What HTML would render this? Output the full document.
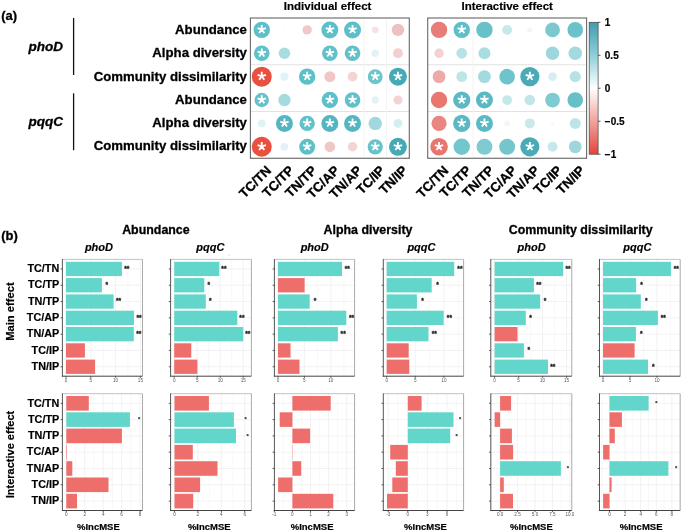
<!DOCTYPE html>
<html><head><meta charset="utf-8"><title>Figure</title>
<style>
html,body{margin:0;padding:0;background:#fff;}
body{width:685px;height:532px;overflow:hidden;}
svg{display:block;font-family:"Liberation Sans", sans-serif;will-change:transform;}
</style></head>
<body>
<svg width="685" height="532" viewBox="0 0 685 532">
<rect width="685" height="532" fill="#fff"/>
<text x="1.20" y="19.80" font-size="13" font-weight="bold" font-style="normal" text-anchor="start" fill="#000" stroke="#000" stroke-width="0.3" >(a)</text>
<text x="28.40" y="50.50" font-size="13.5" font-weight="bold" font-style="italic" text-anchor="start" fill="#000" stroke="#000" stroke-width="0.3" >phoD</text>
<text x="28.40" y="125.80" font-size="13.5" font-weight="bold" font-style="italic" text-anchor="start" fill="#000" stroke="#000" stroke-width="0.3" >pqqC</text>
<line x1="73.60" y1="18.00" x2="73.60" y2="75.00" stroke="#111" stroke-width="1.3"/>
<line x1="73.60" y1="93.30" x2="73.60" y2="150.20" stroke="#111" stroke-width="1.3"/>
<text x="246.90" y="34.00" font-size="13.2" font-weight="bold" font-style="normal" text-anchor="end" fill="#000" stroke="#000" stroke-width="0.3" >Abundance</text>
<text x="246.90" y="57.27" font-size="13.2" font-weight="bold" font-style="normal" text-anchor="end" fill="#000" stroke="#000" stroke-width="0.3" >Alpha diversity</text>
<text x="246.90" y="80.54" font-size="13.2" font-weight="bold" font-style="normal" text-anchor="end" fill="#000" stroke="#000" stroke-width="0.3" >Community dissimilarity</text>
<text x="246.90" y="103.81" font-size="13.2" font-weight="bold" font-style="normal" text-anchor="end" fill="#000" stroke="#000" stroke-width="0.3" >Abundance</text>
<text x="246.90" y="127.08" font-size="13.2" font-weight="bold" font-style="normal" text-anchor="end" fill="#000" stroke="#000" stroke-width="0.3" >Alpha diversity</text>
<text x="246.90" y="150.35" font-size="13.2" font-weight="bold" font-style="normal" text-anchor="end" fill="#000" stroke="#000" stroke-width="0.3" >Community dissimilarity</text>
<line x1="250.40" y1="64.76" x2="409.30" y2="64.76" stroke="#e2e2e2" stroke-width="1"/>
<line x1="250.40" y1="111.52" x2="409.30" y2="111.52" stroke="#e2e2e2" stroke-width="1"/>
<line x1="363.90" y1="18.00" x2="363.90" y2="158.28" stroke="#f3f3f3" stroke-width="1"/>
<line x1="386.60" y1="18.00" x2="386.60" y2="158.28" stroke="#f3f3f3" stroke-width="1"/>
<circle cx="261.75" cy="29.89" r="8.2" fill="#5dc0c8"/>
<path d="M261.75 29.49L261.75 25.09M261.75 29.49L265.93 28.13M261.75 29.49L257.57 28.13M261.75 29.49L259.16 33.05M261.75 29.49L264.34 33.05" stroke="#fff" stroke-width="1.85" fill="none"/>
<circle cx="284.45" cy="29.89" r="0.8" fill="#f4f4f4"/>
<circle cx="307.15" cy="29.89" r="4.7" fill="#f0c8c8"/>
<circle cx="329.85" cy="29.89" r="8.5" fill="#5dc0c8"/>
<path d="M329.85 29.49L329.85 25.09M329.85 29.49L334.03 28.13M329.85 29.49L325.67 28.13M329.85 29.49L327.26 33.05M329.85 29.49L332.44 33.05" stroke="#fff" stroke-width="1.85" fill="none"/>
<circle cx="352.55" cy="29.89" r="8.5" fill="#5dc0c8"/>
<path d="M352.55 29.49L352.55 25.09M352.55 29.49L356.73 28.13M352.55 29.49L348.37 28.13M352.55 29.49L349.96 33.05M352.55 29.49L355.14 33.05" stroke="#fff" stroke-width="1.85" fill="none"/>
<circle cx="375.25" cy="29.89" r="3.3" fill="#f6e2e2"/>
<circle cx="397.95" cy="29.89" r="6.2" fill="#efc0c0"/>
<circle cx="261.75" cy="53.27" r="7.8" fill="#62c0c9"/>
<path d="M261.75 52.87L261.75 48.47M261.75 52.87L265.93 51.51M261.75 52.87L257.57 51.51M261.75 52.87L259.16 56.43M261.75 52.87L264.34 56.43" stroke="#fff" stroke-width="1.85" fill="none"/>
<circle cx="284.45" cy="53.27" r="5.8" fill="#a8dde0"/>
<circle cx="307.15" cy="53.27" r="0.8" fill="#f4f4f4"/>
<circle cx="329.85" cy="53.27" r="7.8" fill="#62c0c9"/>
<path d="M329.85 52.87L329.85 48.47M329.85 52.87L334.03 51.51M329.85 52.87L325.67 51.51M329.85 52.87L327.26 56.43M329.85 52.87L332.44 56.43" stroke="#fff" stroke-width="1.85" fill="none"/>
<circle cx="352.55" cy="53.27" r="7.8" fill="#62c0c9"/>
<path d="M352.55 52.87L352.55 48.47M352.55 52.87L356.73 51.51M352.55 52.87L348.37 51.51M352.55 52.87L349.96 56.43M352.55 52.87L355.14 56.43" stroke="#fff" stroke-width="1.85" fill="none"/>
<circle cx="375.25" cy="53.27" r="3.7" fill="#e2f3f5"/>
<circle cx="397.95" cy="53.27" r="5.0" fill="#f3d0d0"/>
<circle cx="261.75" cy="76.65" r="10" fill="#e8503f"/>
<path d="M261.75 76.25L261.75 71.85M261.75 76.25L265.93 74.89M261.75 76.25L257.57 74.89M261.75 76.25L259.16 79.81M261.75 76.25L264.34 79.81" stroke="#fff" stroke-width="1.85" fill="none"/>
<circle cx="284.45" cy="76.65" r="4.1" fill="#dff2f4"/>
<circle cx="307.15" cy="76.65" r="8.2" fill="#5dc0c8"/>
<path d="M307.15 76.25L307.15 71.85M307.15 76.25L311.33 74.89M307.15 76.25L302.97 74.89M307.15 76.25L304.56 79.81M307.15 76.25L309.74 79.81" stroke="#fff" stroke-width="1.85" fill="none"/>
<circle cx="329.85" cy="76.65" r="5.5" fill="#f0c6c6"/>
<circle cx="352.55" cy="76.65" r="4.9" fill="#f3d3d3"/>
<circle cx="375.25" cy="76.65" r="7.4" fill="#6cc4cc"/>
<path d="M375.25 76.25L375.25 71.85M375.25 76.25L379.43 74.89M375.25 76.25L371.07 74.89M375.25 76.25L372.66 79.81M375.25 76.25L377.84 79.81" stroke="#fff" stroke-width="1.85" fill="none"/>
<circle cx="397.95" cy="76.65" r="9.0" fill="#45a9b6"/>
<path d="M397.95 76.25L397.95 71.85M397.95 76.25L402.13 74.89M397.95 76.25L393.77 74.89M397.95 76.25L395.36 79.81M397.95 76.25L400.54 79.81" stroke="#fff" stroke-width="1.85" fill="none"/>
<circle cx="261.75" cy="100.03" r="7.2" fill="#66c2ca"/>
<path d="M261.75 99.63L261.75 95.23M261.75 99.63L265.93 98.27M261.75 99.63L257.57 98.27M261.75 99.63L259.16 103.19M261.75 99.63L264.34 103.19" stroke="#fff" stroke-width="1.85" fill="none"/>
<circle cx="284.45" cy="100.03" r="6.2" fill="#a5dade"/>
<circle cx="307.15" cy="100.03" r="0.8" fill="#f4f4f4"/>
<circle cx="329.85" cy="100.03" r="8.2" fill="#5dc0c8"/>
<path d="M329.85 99.63L329.85 95.23M329.85 99.63L334.03 98.27M329.85 99.63L325.67 98.27M329.85 99.63L327.26 103.19M329.85 99.63L332.44 103.19" stroke="#fff" stroke-width="1.85" fill="none"/>
<circle cx="352.55" cy="100.03" r="7.8" fill="#62c0c9"/>
<path d="M352.55 99.63L352.55 95.23M352.55 99.63L356.73 98.27M352.55 99.63L348.37 98.27M352.55 99.63L349.96 103.19M352.55 99.63L355.14 103.19" stroke="#fff" stroke-width="1.85" fill="none"/>
<circle cx="375.25" cy="100.03" r="3.7" fill="#e2f3f5"/>
<circle cx="397.95" cy="100.03" r="4.5" fill="#f3d3d3"/>
<circle cx="261.75" cy="123.41" r="3.9" fill="#dff2f4"/>
<circle cx="284.45" cy="123.41" r="8.5" fill="#55b6c1"/>
<path d="M284.45 123.01L284.45 118.61M284.45 123.01L288.63 121.65M284.45 123.01L280.27 121.65M284.45 123.01L281.86 126.57M284.45 123.01L287.04 126.57" stroke="#fff" stroke-width="1.85" fill="none"/>
<circle cx="307.15" cy="123.41" r="7.7" fill="#62c0c9"/>
<path d="M307.15 123.01L307.15 118.61M307.15 123.01L311.33 121.65M307.15 123.01L302.97 121.65M307.15 123.01L304.56 126.57M307.15 123.01L309.74 126.57" stroke="#fff" stroke-width="1.85" fill="none"/>
<circle cx="329.85" cy="123.41" r="8.5" fill="#55b6c1"/>
<path d="M329.85 123.01L329.85 118.61M329.85 123.01L334.03 121.65M329.85 123.01L325.67 121.65M329.85 123.01L327.26 126.57M329.85 123.01L332.44 126.57" stroke="#fff" stroke-width="1.85" fill="none"/>
<circle cx="352.55" cy="123.41" r="8.5" fill="#55b6c1"/>
<path d="M352.55 123.01L352.55 118.61M352.55 123.01L356.73 121.65M352.55 123.01L348.37 121.65M352.55 123.01L349.96 126.57M352.55 123.01L355.14 126.57" stroke="#fff" stroke-width="1.85" fill="none"/>
<circle cx="375.25" cy="123.41" r="6.7" fill="#a0d8dd"/>
<circle cx="397.95" cy="123.41" r="4.5" fill="#d5eff1"/>
<circle cx="261.75" cy="146.79" r="10" fill="#e8503f"/>
<path d="M261.75 146.39L261.75 141.99M261.75 146.39L265.93 145.03M261.75 146.39L257.57 145.03M261.75 146.39L259.16 149.95M261.75 146.39L264.34 149.95" stroke="#fff" stroke-width="1.85" fill="none"/>
<circle cx="284.45" cy="146.79" r="3.9" fill="#e2f3f5"/>
<circle cx="307.15" cy="146.79" r="8.0" fill="#5dc0c8"/>
<path d="M307.15 146.39L307.15 141.99M307.15 146.39L311.33 145.03M307.15 146.39L302.97 145.03M307.15 146.39L304.56 149.95M307.15 146.39L309.74 149.95" stroke="#fff" stroke-width="1.85" fill="none"/>
<circle cx="329.85" cy="146.79" r="5.3" fill="#f0c6c6"/>
<circle cx="352.55" cy="146.79" r="4.7" fill="#f3d3d3"/>
<circle cx="375.25" cy="146.79" r="7.6" fill="#68c2ca"/>
<path d="M375.25 146.39L375.25 141.99M375.25 146.39L379.43 145.03M375.25 146.39L371.07 145.03M375.25 146.39L372.66 149.95M375.25 146.39L377.84 149.95" stroke="#fff" stroke-width="1.85" fill="none"/>
<circle cx="397.95" cy="146.79" r="9.0" fill="#45a9b6"/>
<path d="M397.95 146.39L397.95 141.99M397.95 146.39L402.13 145.03M397.95 146.39L393.77 145.03M397.95 146.39L395.36 149.95M397.95 146.39L400.54 149.95" stroke="#fff" stroke-width="1.85" fill="none"/>
<line x1="249.90" y1="18.00" x2="409.80" y2="18.00" stroke="#8e8e8e" stroke-width="1.5"/>
<line x1="250.40" y1="18.00" x2="250.40" y2="158.28" stroke="#6a6a6a" stroke-width="1.1"/>
<line x1="409.30" y1="18.00" x2="409.30" y2="158.28" stroke="#6a6a6a" stroke-width="1.1"/>
<line x1="249.90" y1="158.28" x2="409.80" y2="158.28" stroke="#555" stroke-width="1.1"/>
<line x1="427.70" y1="64.76" x2="586.60" y2="64.76" stroke="#e2e2e2" stroke-width="1"/>
<line x1="427.70" y1="111.52" x2="586.60" y2="111.52" stroke="#e2e2e2" stroke-width="1"/>
<line x1="473.10" y1="18.00" x2="473.10" y2="158.28" stroke="#f3f3f3" stroke-width="1"/>
<circle cx="439.05" cy="29.89" r="8.2" fill="#e87c78"/>
<circle cx="461.75" cy="29.89" r="8.2" fill="#5dc0c8"/>
<path d="M461.75 29.49L461.75 25.09M461.75 29.49L465.93 28.13M461.75 29.49L457.57 28.13M461.75 29.49L459.16 33.05M461.75 29.49L464.34 33.05" stroke="#fff" stroke-width="1.85" fill="none"/>
<circle cx="484.45" cy="29.89" r="8.2" fill="#68c0c8"/>
<circle cx="507.15" cy="29.89" r="4.9" fill="#c5e8eb"/>
<circle cx="529.85" cy="29.89" r="2.7" fill="#eef8f8"/>
<circle cx="552.55" cy="29.89" r="7.4" fill="#7bc9cf"/>
<circle cx="575.25" cy="29.89" r="7.8" fill="#6cc2ca"/>
<circle cx="439.05" cy="53.27" r="4.7" fill="#f5d0d0"/>
<circle cx="461.75" cy="53.27" r="5.4" fill="#b8e3e6"/>
<circle cx="484.45" cy="53.27" r="6.0" fill="#a9dde0"/>
<circle cx="552.55" cy="53.27" r="6.7" fill="#9dd7dc"/>
<circle cx="575.25" cy="53.27" r="6.8" fill="#a3dade"/>
<circle cx="439.05" cy="76.65" r="6.4" fill="#eea8a5"/>
<circle cx="461.75" cy="76.65" r="5.4" fill="#bde5e8"/>
<circle cx="484.45" cy="76.65" r="6.4" fill="#a3dade"/>
<circle cx="507.15" cy="76.65" r="7.8" fill="#6fc3ca"/>
<circle cx="529.85" cy="76.65" r="9.6" fill="#4aaab6"/>
<path d="M529.85 76.25L529.85 71.85M529.85 76.25L534.03 74.89M529.85 76.25L525.67 74.89M529.85 76.25L527.26 79.81M529.85 76.25L532.44 79.81" stroke="#fff" stroke-width="1.85" fill="none"/>
<circle cx="552.55" cy="76.65" r="4.3" fill="#d5eff1"/>
<circle cx="575.25" cy="76.65" r="5.6" fill="#b5e2e5"/>
<circle cx="439.05" cy="100.03" r="8.2" fill="#e8776f"/>
<circle cx="461.75" cy="100.03" r="8.6" fill="#5ab9c3"/>
<path d="M461.75 99.63L461.75 95.23M461.75 99.63L465.93 98.27M461.75 99.63L457.57 98.27M461.75 99.63L459.16 103.19M461.75 99.63L464.34 103.19" stroke="#fff" stroke-width="1.85" fill="none"/>
<circle cx="484.45" cy="100.03" r="8.5" fill="#5ab9c3"/>
<path d="M484.45 99.63L484.45 95.23M484.45 99.63L488.63 98.27M484.45 99.63L480.27 98.27M484.45 99.63L481.86 103.19M484.45 99.63L487.04 103.19" stroke="#fff" stroke-width="1.85" fill="none"/>
<circle cx="507.15" cy="100.03" r="4.9" fill="#c5e8eb"/>
<circle cx="529.85" cy="100.03" r="5.3" fill="#c0e6e9"/>
<circle cx="552.55" cy="100.03" r="7.4" fill="#7ecbd1"/>
<circle cx="575.25" cy="100.03" r="7.8" fill="#66c0c8"/>
<circle cx="439.05" cy="123.41" r="7.6" fill="#ea857f"/>
<circle cx="461.75" cy="123.41" r="8.6" fill="#5ab9c3"/>
<path d="M461.75 123.01L461.75 118.61M461.75 123.01L465.93 121.65M461.75 123.01L457.57 121.65M461.75 123.01L459.16 126.57M461.75 123.01L464.34 126.57" stroke="#fff" stroke-width="1.85" fill="none"/>
<circle cx="484.45" cy="123.41" r="8.5" fill="#5ab9c3"/>
<path d="M484.45 123.01L484.45 118.61M484.45 123.01L488.63 121.65M484.45 123.01L480.27 121.65M484.45 123.01L481.86 126.57M484.45 123.01L487.04 126.57" stroke="#fff" stroke-width="1.85" fill="none"/>
<circle cx="507.15" cy="123.41" r="2.8" fill="#eef8f9"/>
<circle cx="529.85" cy="123.41" r="5.0" fill="#c9eaec"/>
<circle cx="552.55" cy="123.41" r="1.8" fill="#f3f9f9"/>
<circle cx="575.25" cy="123.41" r="5.5" fill="#bde5e8"/>
<circle cx="439.05" cy="146.79" r="8.8" fill="#e8766e"/>
<path d="M439.05 146.39L439.05 141.99M439.05 146.39L443.23 145.03M439.05 146.39L434.87 145.03M439.05 146.39L436.46 149.95M439.05 146.39L441.64 149.95" stroke="#fff" stroke-width="1.85" fill="none"/>
<circle cx="461.75" cy="146.79" r="8.2" fill="#74c6cd"/>
<circle cx="484.45" cy="146.79" r="8.0" fill="#80cbd1"/>
<circle cx="507.15" cy="146.79" r="8.0" fill="#74c5cc"/>
<circle cx="529.85" cy="146.79" r="9.6" fill="#4aaab6"/>
<path d="M529.85 146.39L529.85 141.99M529.85 146.39L534.03 145.03M529.85 146.39L525.67 145.03M529.85 146.39L527.26 149.95M529.85 146.39L532.44 149.95" stroke="#fff" stroke-width="1.85" fill="none"/>
<circle cx="552.55" cy="146.79" r="5.0" fill="#c6e8eb"/>
<circle cx="575.25" cy="146.79" r="6.4" fill="#9dd7db"/>
<line x1="427.20" y1="18.00" x2="587.10" y2="18.00" stroke="#8e8e8e" stroke-width="1.5"/>
<line x1="427.70" y1="18.00" x2="427.70" y2="158.28" stroke="#6a6a6a" stroke-width="1.1"/>
<line x1="586.60" y1="18.00" x2="586.60" y2="158.28" stroke="#6a6a6a" stroke-width="1.1"/>
<line x1="427.20" y1="158.28" x2="587.10" y2="158.28" stroke="#555" stroke-width="1.1"/>
<text x="327.60" y="9.60" font-size="11.5" font-weight="bold" font-style="normal" text-anchor="middle" fill="#000" stroke="#000" stroke-width="0.18" >Individual effect</text>
<text x="507.20" y="9.60" font-size="11.5" font-weight="bold" font-style="normal" text-anchor="middle" fill="#000" stroke="#000" stroke-width="0.18" >Interactive effect</text>
<text x="272.05" y="171.20" font-size="13.2" font-weight="bold" font-style="normal" text-anchor="end" fill="#000" stroke="#000" stroke-width="0.3" transform="rotate(-45 272.05 171.20)">TC/TN</text>
<text x="294.75" y="171.20" font-size="13.2" font-weight="bold" font-style="normal" text-anchor="end" fill="#000" stroke="#000" stroke-width="0.3" transform="rotate(-45 294.75 171.20)">TC/TP</text>
<text x="317.45" y="171.20" font-size="13.2" font-weight="bold" font-style="normal" text-anchor="end" fill="#000" stroke="#000" stroke-width="0.3" transform="rotate(-45 317.45 171.20)">TN/TP</text>
<text x="340.15" y="171.20" font-size="13.2" font-weight="bold" font-style="normal" text-anchor="end" fill="#000" stroke="#000" stroke-width="0.3" transform="rotate(-45 340.15 171.20)">TC/AP</text>
<text x="362.85" y="171.20" font-size="13.2" font-weight="bold" font-style="normal" text-anchor="end" fill="#000" stroke="#000" stroke-width="0.3" transform="rotate(-45 362.85 171.20)">TN/AP</text>
<text x="385.55" y="171.20" font-size="13.2" font-weight="bold" font-style="normal" text-anchor="end" fill="#000" stroke="#000" stroke-width="0.3" transform="rotate(-45 385.55 171.20)">TC/IP</text>
<text x="408.25" y="171.20" font-size="13.2" font-weight="bold" font-style="normal" text-anchor="end" fill="#000" stroke="#000" stroke-width="0.3" transform="rotate(-45 408.25 171.20)">TN/IP</text>
<text x="449.35" y="171.20" font-size="13.2" font-weight="bold" font-style="normal" text-anchor="end" fill="#000" stroke="#000" stroke-width="0.3" transform="rotate(-45 449.35 171.20)">TC/TN</text>
<text x="472.05" y="171.20" font-size="13.2" font-weight="bold" font-style="normal" text-anchor="end" fill="#000" stroke="#000" stroke-width="0.3" transform="rotate(-45 472.05 171.20)">TC/TP</text>
<text x="494.75" y="171.20" font-size="13.2" font-weight="bold" font-style="normal" text-anchor="end" fill="#000" stroke="#000" stroke-width="0.3" transform="rotate(-45 494.75 171.20)">TN/TP</text>
<text x="517.45" y="171.20" font-size="13.2" font-weight="bold" font-style="normal" text-anchor="end" fill="#000" stroke="#000" stroke-width="0.3" transform="rotate(-45 517.45 171.20)">TC/AP</text>
<text x="540.15" y="171.20" font-size="13.2" font-weight="bold" font-style="normal" text-anchor="end" fill="#000" stroke="#000" stroke-width="0.3" transform="rotate(-45 540.15 171.20)">TN/AP</text>
<text x="562.85" y="171.20" font-size="13.2" font-weight="bold" font-style="normal" text-anchor="end" fill="#000" stroke="#000" stroke-width="0.3" transform="rotate(-45 562.85 171.20)">TC/IP</text>
<text x="585.55" y="171.20" font-size="13.2" font-weight="bold" font-style="normal" text-anchor="end" fill="#000" stroke="#000" stroke-width="0.3" transform="rotate(-45 585.55 171.20)">TN/IP</text>
<defs><linearGradient id="cb" x1="0" y1="0" x2="0" y2="1"><stop offset="0" stop-color="#3f9db0"/><stop offset="0.25" stop-color="#8fcfd8"/><stop offset="0.5" stop-color="#ffffff"/><stop offset="0.75" stop-color="#f0a39d"/><stop offset="1" stop-color="#e4443a"/></linearGradient></defs>
<rect x="589.2" y="22.3" width="8.9" height="131.90" fill="url(#cb)" stroke="#444" stroke-width="0.7"/>
<line x1="598.10" y1="22.30" x2="600.50" y2="22.30" stroke="#333" stroke-width="0.8"/>
<text x="604.80" y="25.90" font-size="10" font-weight="bold" font-style="normal" text-anchor="start" fill="#000" stroke="#000" stroke-width="0.18" >1</text>
<line x1="598.10" y1="55.27" x2="600.50" y2="55.27" stroke="#333" stroke-width="0.8"/>
<text x="604.80" y="58.87" font-size="10" font-weight="bold" font-style="normal" text-anchor="start" fill="#000" stroke="#000" stroke-width="0.18" >0.5</text>
<line x1="598.10" y1="88.25" x2="600.50" y2="88.25" stroke="#333" stroke-width="0.8"/>
<text x="604.80" y="91.85" font-size="10" font-weight="bold" font-style="normal" text-anchor="start" fill="#000" stroke="#000" stroke-width="0.18" >0</text>
<line x1="598.10" y1="121.22" x2="600.50" y2="121.22" stroke="#333" stroke-width="0.8"/>
<text x="604.80" y="124.82" font-size="10" font-weight="bold" font-style="normal" text-anchor="start" fill="#000" stroke="#000" stroke-width="0.18" >−0.5</text>
<line x1="598.10" y1="154.20" x2="600.50" y2="154.20" stroke="#333" stroke-width="0.8"/>
<text x="604.80" y="157.80" font-size="10" font-weight="bold" font-style="normal" text-anchor="start" fill="#000" stroke="#000" stroke-width="0.18" >−1</text>
<circle cx="229.2" cy="255.1" r="0.7" fill="#c8c8c8"/>
<text x="1.20" y="239.50" font-size="13" font-weight="bold" font-style="normal" text-anchor="start" fill="#000" stroke="#000" stroke-width="0.3" >(b)</text>
<text x="155.90" y="234.20" font-size="12.4" font-weight="bold" font-style="normal" text-anchor="middle" fill="#000" stroke="#000" stroke-width="0.3" >Abundance</text>
<text x="368.00" y="234.20" font-size="12.4" font-weight="bold" font-style="normal" text-anchor="middle" fill="#000" stroke="#000" stroke-width="0.3" >Alpha diversity</text>
<text x="580.70" y="234.20" font-size="12.4" font-weight="bold" font-style="normal" text-anchor="middle" fill="#000" stroke="#000" stroke-width="0.3" >Community dissimilarity</text>
<text x="98.95" y="251.20" font-size="11" font-weight="bold" font-style="italic" text-anchor="middle" fill="#000" stroke="#000" stroke-width="0.18" >phoD</text>
<text x="210.30" y="251.20" font-size="11" font-weight="bold" font-style="italic" text-anchor="middle" fill="#000" stroke="#000" stroke-width="0.18" >pqqC</text>
<text x="314.70" y="251.20" font-size="11" font-weight="bold" font-style="italic" text-anchor="middle" fill="#000" stroke="#000" stroke-width="0.18" >phoD</text>
<text x="421.45" y="251.20" font-size="11" font-weight="bold" font-style="italic" text-anchor="middle" fill="#000" stroke="#000" stroke-width="0.18" >pqqC</text>
<text x="531.60" y="251.20" font-size="11" font-weight="bold" font-style="italic" text-anchor="middle" fill="#000" stroke="#000" stroke-width="0.18" >phoD</text>
<text x="637.35" y="251.20" font-size="11" font-weight="bold" font-style="italic" text-anchor="middle" fill="#000" stroke="#000" stroke-width="0.18" >pqqC</text>
<text x="0.00" y="0.00" font-size="11.2" font-weight="bold" font-style="normal" text-anchor="middle" fill="#000" stroke="#000" stroke-width="0.18" transform="translate(14.2 311.6) rotate(-90)">Main effect</text>
<text x="0.00" y="0.00" font-size="11" font-weight="bold" font-style="normal" text-anchor="middle" fill="#000" stroke="#000" stroke-width="0.18" transform="translate(14.4 454.5) rotate(-90)">Interactive effect</text>
<line x1="78.40" y1="259.40" x2="78.40" y2="376.20" stroke="#f4f4f4" stroke-width="0.6"/>
<line x1="103.20" y1="259.40" x2="103.20" y2="376.20" stroke="#f4f4f4" stroke-width="0.6"/>
<line x1="128.00" y1="259.40" x2="128.00" y2="376.20" stroke="#f4f4f4" stroke-width="0.6"/>
<line x1="66.00" y1="259.40" x2="66.00" y2="376.20" stroke="#e9e9e9" stroke-width="0.6"/>
<line x1="90.80" y1="259.40" x2="90.80" y2="376.20" stroke="#e9e9e9" stroke-width="0.6"/>
<line x1="115.60" y1="259.40" x2="115.60" y2="376.20" stroke="#e9e9e9" stroke-width="0.6"/>
<line x1="140.40" y1="259.40" x2="140.40" y2="376.20" stroke="#e9e9e9" stroke-width="0.6"/>
<line x1="62.40" y1="268.95" x2="142.50" y2="268.95" stroke="#e9e9e9" stroke-width="0.6"/>
<line x1="62.40" y1="285.25" x2="142.50" y2="285.25" stroke="#e9e9e9" stroke-width="0.6"/>
<line x1="62.40" y1="301.55" x2="142.50" y2="301.55" stroke="#e9e9e9" stroke-width="0.6"/>
<line x1="62.40" y1="317.85" x2="142.50" y2="317.85" stroke="#e9e9e9" stroke-width="0.6"/>
<line x1="62.40" y1="334.15" x2="142.50" y2="334.15" stroke="#e9e9e9" stroke-width="0.6"/>
<line x1="62.40" y1="350.45" x2="142.50" y2="350.45" stroke="#e9e9e9" stroke-width="0.6"/>
<line x1="62.40" y1="366.75" x2="142.50" y2="366.75" stroke="#e9e9e9" stroke-width="0.6"/>
<rect x="66.00" y="261.80" width="55.90" height="14.30" fill="#62d6ca" />
<text x="126.86" y="270.85" font-size="6.6" font-weight="bold" font-style="normal" text-anchor="middle" fill="#222" stroke="#222" stroke-width="0.3" >**</text>
<rect x="66.00" y="278.10" width="35.90" height="14.30" fill="#62d6ca" />
<text x="106.86" y="287.15" font-size="6.6" font-weight="bold" font-style="normal" text-anchor="middle" fill="#222" stroke="#222" stroke-width="0.3" >*</text>
<rect x="66.00" y="294.40" width="47.60" height="14.30" fill="#62d6ca" />
<text x="118.56" y="303.45" font-size="6.6" font-weight="bold" font-style="normal" text-anchor="middle" fill="#222" stroke="#222" stroke-width="0.3" >**</text>
<rect x="66.00" y="310.70" width="68.00" height="14.30" fill="#62d6ca" />
<text x="138.96" y="319.75" font-size="6.6" font-weight="bold" font-style="normal" text-anchor="middle" fill="#222" stroke="#222" stroke-width="0.3" >**</text>
<rect x="66.00" y="327.00" width="67.80" height="14.30" fill="#62d6ca" />
<text x="138.76" y="336.05" font-size="6.6" font-weight="bold" font-style="normal" text-anchor="middle" fill="#222" stroke="#222" stroke-width="0.3" >**</text>
<rect x="66.00" y="343.30" width="18.90" height="14.30" fill="#ee6e6b" />
<rect x="66.00" y="359.60" width="29.10" height="14.30" fill="#ee6e6b" />
<line x1="62.40" y1="259.40" x2="142.50" y2="259.40" stroke="#bbbbbb" stroke-width="0.9"/>
<line x1="142.50" y1="259.40" x2="142.50" y2="376.20" stroke="#aaaaaa" stroke-width="1.0"/>
<line x1="62.40" y1="259.00" x2="62.40" y2="376.70" stroke="#555" stroke-width="1.0"/>
<line x1="61.90" y1="376.20" x2="142.50" y2="376.20" stroke="#444" stroke-width="1.0"/>
<line x1="60.60" y1="268.95" x2="62.40" y2="268.95" stroke="#333" stroke-width="0.8"/>
<text x="59.20" y="272.15" font-size="10.8" font-weight="bold" font-style="normal" text-anchor="end" fill="#000" stroke="#000" stroke-width="0.18" >TC/TN</text>
<line x1="60.60" y1="285.25" x2="62.40" y2="285.25" stroke="#333" stroke-width="0.8"/>
<text x="59.20" y="288.45" font-size="10.8" font-weight="bold" font-style="normal" text-anchor="end" fill="#000" stroke="#000" stroke-width="0.18" >TC/TP</text>
<line x1="60.60" y1="301.55" x2="62.40" y2="301.55" stroke="#333" stroke-width="0.8"/>
<text x="59.20" y="304.75" font-size="10.8" font-weight="bold" font-style="normal" text-anchor="end" fill="#000" stroke="#000" stroke-width="0.18" >TN/TP</text>
<line x1="60.60" y1="317.85" x2="62.40" y2="317.85" stroke="#333" stroke-width="0.8"/>
<text x="59.20" y="321.05" font-size="10.8" font-weight="bold" font-style="normal" text-anchor="end" fill="#000" stroke="#000" stroke-width="0.18" >TC/AP</text>
<line x1="60.60" y1="334.15" x2="62.40" y2="334.15" stroke="#333" stroke-width="0.8"/>
<text x="59.20" y="337.35" font-size="10.8" font-weight="bold" font-style="normal" text-anchor="end" fill="#000" stroke="#000" stroke-width="0.18" >TN/AP</text>
<line x1="60.60" y1="350.45" x2="62.40" y2="350.45" stroke="#333" stroke-width="0.8"/>
<text x="59.20" y="353.65" font-size="10.8" font-weight="bold" font-style="normal" text-anchor="end" fill="#000" stroke="#000" stroke-width="0.18" >TC/IP</text>
<line x1="60.60" y1="366.75" x2="62.40" y2="366.75" stroke="#333" stroke-width="0.8"/>
<text x="59.20" y="369.95" font-size="10.8" font-weight="bold" font-style="normal" text-anchor="end" fill="#000" stroke="#000" stroke-width="0.18" >TN/IP</text>
<line x1="66.00" y1="376.20" x2="66.00" y2="377.80" stroke="#333" stroke-width="0.8"/>
<text x="66.00" y="381.80" font-size="4.6" font-weight="normal" font-style="normal" text-anchor="middle" fill="#555" >0</text>
<line x1="90.80" y1="376.20" x2="90.80" y2="377.80" stroke="#333" stroke-width="0.8"/>
<text x="90.80" y="381.80" font-size="4.6" font-weight="normal" font-style="normal" text-anchor="middle" fill="#555" >5</text>
<line x1="115.60" y1="376.20" x2="115.60" y2="377.80" stroke="#333" stroke-width="0.8"/>
<text x="115.60" y="381.80" font-size="4.6" font-weight="normal" font-style="normal" text-anchor="middle" fill="#555" >10</text>
<line x1="140.40" y1="376.20" x2="140.40" y2="377.80" stroke="#333" stroke-width="0.8"/>
<text x="140.40" y="381.80" font-size="4.6" font-weight="normal" font-style="normal" text-anchor="middle" fill="#555" >15</text>
<line x1="75.52" y1="393.70" x2="75.52" y2="510.50" stroke="#f4f4f4" stroke-width="0.6"/>
<line x1="93.97" y1="393.70" x2="93.97" y2="510.50" stroke="#f4f4f4" stroke-width="0.6"/>
<line x1="112.42" y1="393.70" x2="112.42" y2="510.50" stroke="#f4f4f4" stroke-width="0.6"/>
<line x1="130.88" y1="393.70" x2="130.88" y2="510.50" stroke="#f4f4f4" stroke-width="0.6"/>
<line x1="66.30" y1="393.70" x2="66.30" y2="510.50" stroke="#e9e9e9" stroke-width="0.6"/>
<line x1="84.75" y1="393.70" x2="84.75" y2="510.50" stroke="#e9e9e9" stroke-width="0.6"/>
<line x1="103.20" y1="393.70" x2="103.20" y2="510.50" stroke="#e9e9e9" stroke-width="0.6"/>
<line x1="121.65" y1="393.70" x2="121.65" y2="510.50" stroke="#e9e9e9" stroke-width="0.6"/>
<line x1="140.10" y1="393.70" x2="140.10" y2="510.50" stroke="#e9e9e9" stroke-width="0.6"/>
<line x1="62.40" y1="403.30" x2="142.50" y2="403.30" stroke="#e9e9e9" stroke-width="0.6"/>
<line x1="62.40" y1="419.60" x2="142.50" y2="419.60" stroke="#e9e9e9" stroke-width="0.6"/>
<line x1="62.40" y1="435.90" x2="142.50" y2="435.90" stroke="#e9e9e9" stroke-width="0.6"/>
<line x1="62.40" y1="452.20" x2="142.50" y2="452.20" stroke="#e9e9e9" stroke-width="0.6"/>
<line x1="62.40" y1="468.50" x2="142.50" y2="468.50" stroke="#e9e9e9" stroke-width="0.6"/>
<line x1="62.40" y1="484.80" x2="142.50" y2="484.80" stroke="#e9e9e9" stroke-width="0.6"/>
<line x1="62.40" y1="501.10" x2="142.50" y2="501.10" stroke="#e9e9e9" stroke-width="0.6"/>
<rect x="66.30" y="396.00" width="22.50" height="14.60" fill="#ee6e6b" />
<rect x="66.30" y="412.30" width="63.60" height="14.60" fill="#62d6ca" />
<text x="139.12" y="421.27" font-size="5.8" font-weight="bold" font-style="normal" text-anchor="middle" fill="#222" stroke="#222" stroke-width="0.1" >*</text>
<rect x="66.30" y="428.60" width="55.60" height="14.60" fill="#ee6e6b" />
<rect x="66.30" y="444.90" width="0.60" height="14.60" fill="#ee6e6b" />
<rect x="66.30" y="461.20" width="6.00" height="14.60" fill="#ee6e6b" />
<rect x="66.30" y="477.50" width="42.20" height="14.60" fill="#ee6e6b" />
<rect x="66.30" y="493.80" width="10.70" height="14.60" fill="#ee6e6b" />
<line x1="62.40" y1="393.70" x2="142.50" y2="393.70" stroke="#bbbbbb" stroke-width="0.9"/>
<line x1="142.50" y1="393.70" x2="142.50" y2="510.50" stroke="#aaaaaa" stroke-width="1.0"/>
<line x1="62.40" y1="393.30" x2="62.40" y2="511.00" stroke="#555" stroke-width="1.0"/>
<line x1="61.90" y1="510.50" x2="142.50" y2="510.50" stroke="#444" stroke-width="1.0"/>
<line x1="60.60" y1="403.30" x2="62.40" y2="403.30" stroke="#333" stroke-width="0.8"/>
<text x="59.20" y="406.50" font-size="10.8" font-weight="bold" font-style="normal" text-anchor="end" fill="#000" stroke="#000" stroke-width="0.18" >TC/TN</text>
<line x1="60.60" y1="419.60" x2="62.40" y2="419.60" stroke="#333" stroke-width="0.8"/>
<text x="59.20" y="422.80" font-size="10.8" font-weight="bold" font-style="normal" text-anchor="end" fill="#000" stroke="#000" stroke-width="0.18" >TC/TP</text>
<line x1="60.60" y1="435.90" x2="62.40" y2="435.90" stroke="#333" stroke-width="0.8"/>
<text x="59.20" y="439.10" font-size="10.8" font-weight="bold" font-style="normal" text-anchor="end" fill="#000" stroke="#000" stroke-width="0.18" >TN/TP</text>
<line x1="60.60" y1="452.20" x2="62.40" y2="452.20" stroke="#333" stroke-width="0.8"/>
<text x="59.20" y="455.40" font-size="10.8" font-weight="bold" font-style="normal" text-anchor="end" fill="#000" stroke="#000" stroke-width="0.18" >TC/AP</text>
<line x1="60.60" y1="468.50" x2="62.40" y2="468.50" stroke="#333" stroke-width="0.8"/>
<text x="59.20" y="471.70" font-size="10.8" font-weight="bold" font-style="normal" text-anchor="end" fill="#000" stroke="#000" stroke-width="0.18" >TN/AP</text>
<line x1="60.60" y1="484.80" x2="62.40" y2="484.80" stroke="#333" stroke-width="0.8"/>
<text x="59.20" y="488.00" font-size="10.8" font-weight="bold" font-style="normal" text-anchor="end" fill="#000" stroke="#000" stroke-width="0.18" >TC/IP</text>
<line x1="60.60" y1="501.10" x2="62.40" y2="501.10" stroke="#333" stroke-width="0.8"/>
<text x="59.20" y="504.30" font-size="10.8" font-weight="bold" font-style="normal" text-anchor="end" fill="#000" stroke="#000" stroke-width="0.18" >TN/IP</text>
<line x1="66.30" y1="510.50" x2="66.30" y2="512.10" stroke="#333" stroke-width="0.8"/>
<text x="66.30" y="516.10" font-size="4.6" font-weight="normal" font-style="normal" text-anchor="middle" fill="#555" >0</text>
<line x1="84.75" y1="510.50" x2="84.75" y2="512.10" stroke="#333" stroke-width="0.8"/>
<text x="84.75" y="516.10" font-size="4.6" font-weight="normal" font-style="normal" text-anchor="middle" fill="#555" >2</text>
<line x1="103.20" y1="510.50" x2="103.20" y2="512.10" stroke="#333" stroke-width="0.8"/>
<text x="103.20" y="516.10" font-size="4.6" font-weight="normal" font-style="normal" text-anchor="middle" fill="#555" >4</text>
<line x1="121.65" y1="510.50" x2="121.65" y2="512.10" stroke="#333" stroke-width="0.8"/>
<text x="121.65" y="516.10" font-size="4.6" font-weight="normal" font-style="normal" text-anchor="middle" fill="#555" >6</text>
<line x1="140.10" y1="510.50" x2="140.10" y2="512.10" stroke="#333" stroke-width="0.8"/>
<text x="140.10" y="516.10" font-size="4.6" font-weight="normal" font-style="normal" text-anchor="middle" fill="#555" >8</text>
<text x="98.40" y="530.00" font-size="9.5" font-weight="bold" font-style="normal" text-anchor="middle" fill="#000" stroke="#000" stroke-width="0.18" >%IncMSE</text>
<line x1="185.70" y1="259.40" x2="185.70" y2="376.20" stroke="#f4f4f4" stroke-width="0.6"/>
<line x1="208.70" y1="259.40" x2="208.70" y2="376.20" stroke="#f4f4f4" stroke-width="0.6"/>
<line x1="231.70" y1="259.40" x2="231.70" y2="376.20" stroke="#f4f4f4" stroke-width="0.6"/>
<line x1="174.20" y1="259.40" x2="174.20" y2="376.20" stroke="#e9e9e9" stroke-width="0.6"/>
<line x1="197.20" y1="259.40" x2="197.20" y2="376.20" stroke="#e9e9e9" stroke-width="0.6"/>
<line x1="220.20" y1="259.40" x2="220.20" y2="376.20" stroke="#e9e9e9" stroke-width="0.6"/>
<line x1="243.20" y1="259.40" x2="243.20" y2="376.20" stroke="#e9e9e9" stroke-width="0.6"/>
<line x1="170.60" y1="268.95" x2="251.40" y2="268.95" stroke="#e9e9e9" stroke-width="0.6"/>
<line x1="170.60" y1="285.25" x2="251.40" y2="285.25" stroke="#e9e9e9" stroke-width="0.6"/>
<line x1="170.60" y1="301.55" x2="251.40" y2="301.55" stroke="#e9e9e9" stroke-width="0.6"/>
<line x1="170.60" y1="317.85" x2="251.40" y2="317.85" stroke="#e9e9e9" stroke-width="0.6"/>
<line x1="170.60" y1="334.15" x2="251.40" y2="334.15" stroke="#e9e9e9" stroke-width="0.6"/>
<line x1="170.60" y1="350.45" x2="251.40" y2="350.45" stroke="#e9e9e9" stroke-width="0.6"/>
<line x1="170.60" y1="366.75" x2="251.40" y2="366.75" stroke="#e9e9e9" stroke-width="0.6"/>
<rect x="174.20" y="261.80" width="45.10" height="14.30" fill="#62d6ca" />
<text x="223.90" y="270.85" font-size="6.6" font-weight="bold" font-style="normal" text-anchor="middle" fill="#222" stroke="#222" stroke-width="0.3" >**</text>
<rect x="174.20" y="278.10" width="30.10" height="14.30" fill="#62d6ca" />
<text x="208.90" y="287.15" font-size="6.6" font-weight="bold" font-style="normal" text-anchor="middle" fill="#222" stroke="#222" stroke-width="0.3" >*</text>
<rect x="174.20" y="294.40" width="31.60" height="14.30" fill="#62d6ca" />
<text x="210.40" y="303.45" font-size="6.6" font-weight="bold" font-style="normal" text-anchor="middle" fill="#222" stroke="#222" stroke-width="0.3" >*</text>
<rect x="174.20" y="310.70" width="63.10" height="14.30" fill="#62d6ca" />
<text x="241.90" y="319.75" font-size="6.6" font-weight="bold" font-style="normal" text-anchor="middle" fill="#222" stroke="#222" stroke-width="0.3" >**</text>
<rect x="174.20" y="327.00" width="69.00" height="14.30" fill="#62d6ca" />
<text x="247.80" y="336.05" font-size="6.6" font-weight="bold" font-style="normal" text-anchor="middle" fill="#222" stroke="#222" stroke-width="0.3" >**</text>
<rect x="174.20" y="343.30" width="17.10" height="14.30" fill="#ee6e6b" />
<rect x="174.20" y="359.60" width="23.20" height="14.30" fill="#ee6e6b" />
<line x1="170.60" y1="259.40" x2="251.40" y2="259.40" stroke="#bbbbbb" stroke-width="0.9"/>
<line x1="251.40" y1="259.40" x2="251.40" y2="376.20" stroke="#aaaaaa" stroke-width="1.0"/>
<line x1="170.60" y1="259.00" x2="170.60" y2="376.70" stroke="#555" stroke-width="1.0"/>
<line x1="170.10" y1="376.20" x2="251.40" y2="376.20" stroke="#444" stroke-width="1.0"/>
<line x1="168.80" y1="268.95" x2="170.60" y2="268.95" stroke="#333" stroke-width="0.8"/>
<line x1="168.80" y1="285.25" x2="170.60" y2="285.25" stroke="#333" stroke-width="0.8"/>
<line x1="168.80" y1="301.55" x2="170.60" y2="301.55" stroke="#333" stroke-width="0.8"/>
<line x1="168.80" y1="317.85" x2="170.60" y2="317.85" stroke="#333" stroke-width="0.8"/>
<line x1="168.80" y1="334.15" x2="170.60" y2="334.15" stroke="#333" stroke-width="0.8"/>
<line x1="168.80" y1="350.45" x2="170.60" y2="350.45" stroke="#333" stroke-width="0.8"/>
<line x1="168.80" y1="366.75" x2="170.60" y2="366.75" stroke="#333" stroke-width="0.8"/>
<line x1="174.20" y1="376.20" x2="174.20" y2="377.80" stroke="#333" stroke-width="0.8"/>
<text x="174.20" y="381.80" font-size="4.6" font-weight="normal" font-style="normal" text-anchor="middle" fill="#555" >0</text>
<line x1="197.20" y1="376.20" x2="197.20" y2="377.80" stroke="#333" stroke-width="0.8"/>
<text x="197.20" y="381.80" font-size="4.6" font-weight="normal" font-style="normal" text-anchor="middle" fill="#555" >5</text>
<line x1="220.20" y1="376.20" x2="220.20" y2="377.80" stroke="#333" stroke-width="0.8"/>
<text x="220.20" y="381.80" font-size="4.6" font-weight="normal" font-style="normal" text-anchor="middle" fill="#555" >10</text>
<line x1="243.20" y1="376.20" x2="243.20" y2="377.80" stroke="#333" stroke-width="0.8"/>
<text x="243.20" y="381.80" font-size="4.6" font-weight="normal" font-style="normal" text-anchor="middle" fill="#555" >15</text>
<line x1="186.20" y1="393.70" x2="186.20" y2="510.50" stroke="#f4f4f4" stroke-width="0.6"/>
<line x1="209.60" y1="393.70" x2="209.60" y2="510.50" stroke="#f4f4f4" stroke-width="0.6"/>
<line x1="233.00" y1="393.70" x2="233.00" y2="510.50" stroke="#f4f4f4" stroke-width="0.6"/>
<line x1="174.50" y1="393.70" x2="174.50" y2="510.50" stroke="#e9e9e9" stroke-width="0.6"/>
<line x1="197.90" y1="393.70" x2="197.90" y2="510.50" stroke="#e9e9e9" stroke-width="0.6"/>
<line x1="221.30" y1="393.70" x2="221.30" y2="510.50" stroke="#e9e9e9" stroke-width="0.6"/>
<line x1="244.70" y1="393.70" x2="244.70" y2="510.50" stroke="#e9e9e9" stroke-width="0.6"/>
<line x1="170.60" y1="403.30" x2="251.40" y2="403.30" stroke="#e9e9e9" stroke-width="0.6"/>
<line x1="170.60" y1="419.60" x2="251.40" y2="419.60" stroke="#e9e9e9" stroke-width="0.6"/>
<line x1="170.60" y1="435.90" x2="251.40" y2="435.90" stroke="#e9e9e9" stroke-width="0.6"/>
<line x1="170.60" y1="452.20" x2="251.40" y2="452.20" stroke="#e9e9e9" stroke-width="0.6"/>
<line x1="170.60" y1="468.50" x2="251.40" y2="468.50" stroke="#e9e9e9" stroke-width="0.6"/>
<line x1="170.60" y1="484.80" x2="251.40" y2="484.80" stroke="#e9e9e9" stroke-width="0.6"/>
<line x1="170.60" y1="501.10" x2="251.40" y2="501.10" stroke="#e9e9e9" stroke-width="0.6"/>
<rect x="174.50" y="396.00" width="34.40" height="14.60" fill="#ee6e6b" />
<rect x="174.50" y="412.30" width="59.40" height="14.60" fill="#62d6ca" />
<text x="245.60" y="421.27" font-size="5.8" font-weight="bold" font-style="normal" text-anchor="middle" fill="#222" stroke="#222" stroke-width="0.1" >*</text>
<rect x="174.50" y="428.60" width="61.50" height="14.60" fill="#62d6ca" />
<text x="247.70" y="437.57" font-size="5.8" font-weight="bold" font-style="normal" text-anchor="middle" fill="#222" stroke="#222" stroke-width="0.1" >*</text>
<rect x="174.50" y="444.90" width="18.30" height="14.60" fill="#ee6e6b" />
<rect x="174.50" y="461.20" width="43.00" height="14.60" fill="#ee6e6b" />
<rect x="174.50" y="477.50" width="25.60" height="14.60" fill="#ee6e6b" />
<rect x="174.50" y="493.80" width="18.70" height="14.60" fill="#ee6e6b" />
<line x1="170.60" y1="393.70" x2="251.40" y2="393.70" stroke="#bbbbbb" stroke-width="0.9"/>
<line x1="251.40" y1="393.70" x2="251.40" y2="510.50" stroke="#aaaaaa" stroke-width="1.0"/>
<line x1="170.60" y1="393.30" x2="170.60" y2="511.00" stroke="#555" stroke-width="1.0"/>
<line x1="170.10" y1="510.50" x2="251.40" y2="510.50" stroke="#444" stroke-width="1.0"/>
<line x1="168.80" y1="403.30" x2="170.60" y2="403.30" stroke="#333" stroke-width="0.8"/>
<line x1="168.80" y1="419.60" x2="170.60" y2="419.60" stroke="#333" stroke-width="0.8"/>
<line x1="168.80" y1="435.90" x2="170.60" y2="435.90" stroke="#333" stroke-width="0.8"/>
<line x1="168.80" y1="452.20" x2="170.60" y2="452.20" stroke="#333" stroke-width="0.8"/>
<line x1="168.80" y1="468.50" x2="170.60" y2="468.50" stroke="#333" stroke-width="0.8"/>
<line x1="168.80" y1="484.80" x2="170.60" y2="484.80" stroke="#333" stroke-width="0.8"/>
<line x1="168.80" y1="501.10" x2="170.60" y2="501.10" stroke="#333" stroke-width="0.8"/>
<line x1="174.50" y1="510.50" x2="174.50" y2="512.10" stroke="#333" stroke-width="0.8"/>
<text x="174.50" y="516.10" font-size="4.6" font-weight="normal" font-style="normal" text-anchor="middle" fill="#555" >0</text>
<line x1="197.90" y1="510.50" x2="197.90" y2="512.10" stroke="#333" stroke-width="0.8"/>
<text x="197.90" y="516.10" font-size="4.6" font-weight="normal" font-style="normal" text-anchor="middle" fill="#555" >2</text>
<line x1="221.30" y1="510.50" x2="221.30" y2="512.10" stroke="#333" stroke-width="0.8"/>
<text x="221.30" y="516.10" font-size="4.6" font-weight="normal" font-style="normal" text-anchor="middle" fill="#555" >4</text>
<line x1="244.70" y1="510.50" x2="244.70" y2="512.10" stroke="#333" stroke-width="0.8"/>
<text x="244.70" y="516.10" font-size="4.6" font-weight="normal" font-style="normal" text-anchor="middle" fill="#555" >6</text>
<text x="209.30" y="530.00" font-size="9.5" font-weight="bold" font-style="normal" text-anchor="middle" fill="#000" stroke="#000" stroke-width="0.18" >%IncMSE</text>
<line x1="291.20" y1="259.40" x2="291.20" y2="376.20" stroke="#f4f4f4" stroke-width="0.6"/>
<line x1="317.60" y1="259.40" x2="317.60" y2="376.20" stroke="#f4f4f4" stroke-width="0.6"/>
<line x1="344.00" y1="259.40" x2="344.00" y2="376.20" stroke="#f4f4f4" stroke-width="0.6"/>
<line x1="278.00" y1="259.40" x2="278.00" y2="376.20" stroke="#e9e9e9" stroke-width="0.6"/>
<line x1="304.40" y1="259.40" x2="304.40" y2="376.20" stroke="#e9e9e9" stroke-width="0.6"/>
<line x1="330.80" y1="259.40" x2="330.80" y2="376.20" stroke="#e9e9e9" stroke-width="0.6"/>
<line x1="274.40" y1="268.95" x2="354.60" y2="268.95" stroke="#e9e9e9" stroke-width="0.6"/>
<line x1="274.40" y1="285.25" x2="354.60" y2="285.25" stroke="#e9e9e9" stroke-width="0.6"/>
<line x1="274.40" y1="301.55" x2="354.60" y2="301.55" stroke="#e9e9e9" stroke-width="0.6"/>
<line x1="274.40" y1="317.85" x2="354.60" y2="317.85" stroke="#e9e9e9" stroke-width="0.6"/>
<line x1="274.40" y1="334.15" x2="354.60" y2="334.15" stroke="#e9e9e9" stroke-width="0.6"/>
<line x1="274.40" y1="350.45" x2="354.60" y2="350.45" stroke="#e9e9e9" stroke-width="0.6"/>
<line x1="274.40" y1="366.75" x2="354.60" y2="366.75" stroke="#e9e9e9" stroke-width="0.6"/>
<rect x="278.00" y="261.80" width="64.00" height="14.30" fill="#62d6ca" />
<text x="347.28" y="270.85" font-size="6.6" font-weight="bold" font-style="normal" text-anchor="middle" fill="#222" stroke="#222" stroke-width="0.3" >**</text>
<rect x="278.00" y="278.10" width="26.60" height="14.30" fill="#ee6e6b" />
<rect x="278.00" y="294.40" width="31.70" height="14.30" fill="#62d6ca" />
<text x="314.98" y="303.45" font-size="6.6" font-weight="bold" font-style="normal" text-anchor="middle" fill="#222" stroke="#222" stroke-width="0.3" >*</text>
<rect x="278.00" y="310.70" width="68.30" height="14.30" fill="#62d6ca" />
<text x="351.58" y="319.75" font-size="6.6" font-weight="bold" font-style="normal" text-anchor="middle" fill="#222" stroke="#222" stroke-width="0.3" >**</text>
<rect x="278.00" y="327.00" width="59.90" height="14.30" fill="#62d6ca" />
<text x="343.18" y="336.05" font-size="6.6" font-weight="bold" font-style="normal" text-anchor="middle" fill="#222" stroke="#222" stroke-width="0.3" >**</text>
<rect x="278.00" y="343.30" width="12.50" height="14.30" fill="#ee6e6b" />
<rect x="278.00" y="359.60" width="21.50" height="14.30" fill="#ee6e6b" />
<line x1="274.40" y1="259.40" x2="354.60" y2="259.40" stroke="#bbbbbb" stroke-width="0.9"/>
<line x1="354.60" y1="259.40" x2="354.60" y2="376.20" stroke="#aaaaaa" stroke-width="1.0"/>
<line x1="274.40" y1="259.00" x2="274.40" y2="376.70" stroke="#555" stroke-width="1.0"/>
<line x1="273.90" y1="376.20" x2="354.60" y2="376.20" stroke="#444" stroke-width="1.0"/>
<line x1="272.60" y1="268.95" x2="274.40" y2="268.95" stroke="#333" stroke-width="0.8"/>
<line x1="272.60" y1="285.25" x2="274.40" y2="285.25" stroke="#333" stroke-width="0.8"/>
<line x1="272.60" y1="301.55" x2="274.40" y2="301.55" stroke="#333" stroke-width="0.8"/>
<line x1="272.60" y1="317.85" x2="274.40" y2="317.85" stroke="#333" stroke-width="0.8"/>
<line x1="272.60" y1="334.15" x2="274.40" y2="334.15" stroke="#333" stroke-width="0.8"/>
<line x1="272.60" y1="350.45" x2="274.40" y2="350.45" stroke="#333" stroke-width="0.8"/>
<line x1="272.60" y1="366.75" x2="274.40" y2="366.75" stroke="#333" stroke-width="0.8"/>
<line x1="278.00" y1="376.20" x2="278.00" y2="377.80" stroke="#333" stroke-width="0.8"/>
<text x="278.00" y="381.80" font-size="4.6" font-weight="normal" font-style="normal" text-anchor="middle" fill="#555" >0</text>
<line x1="304.40" y1="376.20" x2="304.40" y2="377.80" stroke="#333" stroke-width="0.8"/>
<text x="304.40" y="381.80" font-size="4.6" font-weight="normal" font-style="normal" text-anchor="middle" fill="#555" >5</text>
<line x1="330.80" y1="376.20" x2="330.80" y2="377.80" stroke="#333" stroke-width="0.8"/>
<text x="330.80" y="381.80" font-size="4.6" font-weight="normal" font-style="normal" text-anchor="middle" fill="#555" >10</text>
<line x1="283.35" y1="393.70" x2="283.35" y2="510.50" stroke="#f4f4f4" stroke-width="0.6"/>
<line x1="301.45" y1="393.70" x2="301.45" y2="510.50" stroke="#f4f4f4" stroke-width="0.6"/>
<line x1="319.55" y1="393.70" x2="319.55" y2="510.50" stroke="#f4f4f4" stroke-width="0.6"/>
<line x1="337.65" y1="393.70" x2="337.65" y2="510.50" stroke="#f4f4f4" stroke-width="0.6"/>
<line x1="292.40" y1="393.70" x2="292.40" y2="510.50" stroke="#e9e9e9" stroke-width="0.6"/>
<line x1="310.50" y1="393.70" x2="310.50" y2="510.50" stroke="#e9e9e9" stroke-width="0.6"/>
<line x1="328.60" y1="393.70" x2="328.60" y2="510.50" stroke="#e9e9e9" stroke-width="0.6"/>
<line x1="346.70" y1="393.70" x2="346.70" y2="510.50" stroke="#e9e9e9" stroke-width="0.6"/>
<line x1="274.40" y1="403.30" x2="354.60" y2="403.30" stroke="#e9e9e9" stroke-width="0.6"/>
<line x1="274.40" y1="419.60" x2="354.60" y2="419.60" stroke="#e9e9e9" stroke-width="0.6"/>
<line x1="274.40" y1="435.90" x2="354.60" y2="435.90" stroke="#e9e9e9" stroke-width="0.6"/>
<line x1="274.40" y1="452.20" x2="354.60" y2="452.20" stroke="#e9e9e9" stroke-width="0.6"/>
<line x1="274.40" y1="468.50" x2="354.60" y2="468.50" stroke="#e9e9e9" stroke-width="0.6"/>
<line x1="274.40" y1="484.80" x2="354.60" y2="484.80" stroke="#e9e9e9" stroke-width="0.6"/>
<line x1="274.40" y1="501.10" x2="354.60" y2="501.10" stroke="#e9e9e9" stroke-width="0.6"/>
<rect x="292.40" y="396.00" width="38.30" height="14.60" fill="#ee6e6b" />
<rect x="279.70" y="412.30" width="12.70" height="14.60" fill="#ee6e6b" />
<rect x="292.40" y="428.60" width="17.70" height="14.60" fill="#ee6e6b" />
<rect x="292.40" y="444.90" width="0.30" height="14.60" fill="#ee6e6b" />
<rect x="292.40" y="461.20" width="8.80" height="14.60" fill="#ee6e6b" />
<rect x="278.10" y="477.50" width="14.30" height="14.60" fill="#ee6e6b" />
<rect x="292.40" y="493.80" width="40.90" height="14.60" fill="#ee6e6b" />
<line x1="274.40" y1="393.70" x2="354.60" y2="393.70" stroke="#bbbbbb" stroke-width="0.9"/>
<line x1="354.60" y1="393.70" x2="354.60" y2="510.50" stroke="#aaaaaa" stroke-width="1.0"/>
<line x1="274.40" y1="393.30" x2="274.40" y2="511.00" stroke="#555" stroke-width="1.0"/>
<line x1="273.90" y1="510.50" x2="354.60" y2="510.50" stroke="#444" stroke-width="1.0"/>
<line x1="272.60" y1="403.30" x2="274.40" y2="403.30" stroke="#333" stroke-width="0.8"/>
<line x1="272.60" y1="419.60" x2="274.40" y2="419.60" stroke="#333" stroke-width="0.8"/>
<line x1="272.60" y1="435.90" x2="274.40" y2="435.90" stroke="#333" stroke-width="0.8"/>
<line x1="272.60" y1="452.20" x2="274.40" y2="452.20" stroke="#333" stroke-width="0.8"/>
<line x1="272.60" y1="468.50" x2="274.40" y2="468.50" stroke="#333" stroke-width="0.8"/>
<line x1="272.60" y1="484.80" x2="274.40" y2="484.80" stroke="#333" stroke-width="0.8"/>
<line x1="272.60" y1="501.10" x2="274.40" y2="501.10" stroke="#333" stroke-width="0.8"/>
<line x1="274.30" y1="510.50" x2="274.30" y2="512.10" stroke="#333" stroke-width="0.8"/>
<text x="274.30" y="516.10" font-size="4.6" font-weight="normal" font-style="normal" text-anchor="middle" fill="#555" >-1</text>
<line x1="292.40" y1="510.50" x2="292.40" y2="512.10" stroke="#333" stroke-width="0.8"/>
<text x="292.40" y="516.10" font-size="4.6" font-weight="normal" font-style="normal" text-anchor="middle" fill="#555" >0</text>
<line x1="310.50" y1="510.50" x2="310.50" y2="512.10" stroke="#333" stroke-width="0.8"/>
<text x="310.50" y="516.10" font-size="4.6" font-weight="normal" font-style="normal" text-anchor="middle" fill="#555" >1</text>
<line x1="328.60" y1="510.50" x2="328.60" y2="512.10" stroke="#333" stroke-width="0.8"/>
<text x="328.60" y="516.10" font-size="4.6" font-weight="normal" font-style="normal" text-anchor="middle" fill="#555" >2</text>
<line x1="346.70" y1="510.50" x2="346.70" y2="512.10" stroke="#333" stroke-width="0.8"/>
<text x="346.70" y="516.10" font-size="4.6" font-weight="normal" font-style="normal" text-anchor="middle" fill="#555" >3</text>
<text x="312.10" y="530.00" font-size="9.5" font-weight="bold" font-style="normal" text-anchor="middle" fill="#000" stroke="#000" stroke-width="0.18" >%IncMSE</text>
<line x1="401.00" y1="259.40" x2="401.00" y2="376.20" stroke="#f4f4f4" stroke-width="0.6"/>
<line x1="429.60" y1="259.40" x2="429.60" y2="376.20" stroke="#f4f4f4" stroke-width="0.6"/>
<line x1="458.20" y1="259.40" x2="458.20" y2="376.20" stroke="#f4f4f4" stroke-width="0.6"/>
<line x1="386.70" y1="259.40" x2="386.70" y2="376.20" stroke="#e9e9e9" stroke-width="0.6"/>
<line x1="415.30" y1="259.40" x2="415.30" y2="376.20" stroke="#e9e9e9" stroke-width="0.6"/>
<line x1="443.90" y1="259.40" x2="443.90" y2="376.20" stroke="#e9e9e9" stroke-width="0.6"/>
<line x1="383.30" y1="268.95" x2="463.60" y2="268.95" stroke="#e9e9e9" stroke-width="0.6"/>
<line x1="383.30" y1="285.25" x2="463.60" y2="285.25" stroke="#e9e9e9" stroke-width="0.6"/>
<line x1="383.30" y1="301.55" x2="463.60" y2="301.55" stroke="#e9e9e9" stroke-width="0.6"/>
<line x1="383.30" y1="317.85" x2="463.60" y2="317.85" stroke="#e9e9e9" stroke-width="0.6"/>
<line x1="383.30" y1="334.15" x2="463.60" y2="334.15" stroke="#e9e9e9" stroke-width="0.6"/>
<line x1="383.30" y1="350.45" x2="463.60" y2="350.45" stroke="#e9e9e9" stroke-width="0.6"/>
<line x1="383.30" y1="366.75" x2="463.60" y2="366.75" stroke="#e9e9e9" stroke-width="0.6"/>
<rect x="386.70" y="261.80" width="67.50" height="14.30" fill="#62d6ca" />
<text x="459.92" y="270.85" font-size="6.6" font-weight="bold" font-style="normal" text-anchor="middle" fill="#222" stroke="#222" stroke-width="0.3" >**</text>
<rect x="386.70" y="278.10" width="45.00" height="14.30" fill="#62d6ca" />
<text x="437.42" y="287.15" font-size="6.6" font-weight="bold" font-style="normal" text-anchor="middle" fill="#222" stroke="#222" stroke-width="0.3" >*</text>
<rect x="386.70" y="294.40" width="30.20" height="14.30" fill="#62d6ca" />
<text x="422.62" y="303.45" font-size="6.6" font-weight="bold" font-style="normal" text-anchor="middle" fill="#222" stroke="#222" stroke-width="0.3" >*</text>
<rect x="386.70" y="310.70" width="57.00" height="14.30" fill="#62d6ca" />
<text x="449.42" y="319.75" font-size="6.6" font-weight="bold" font-style="normal" text-anchor="middle" fill="#222" stroke="#222" stroke-width="0.3" >**</text>
<rect x="386.70" y="327.00" width="41.80" height="14.30" fill="#62d6ca" />
<text x="434.22" y="336.05" font-size="6.6" font-weight="bold" font-style="normal" text-anchor="middle" fill="#222" stroke="#222" stroke-width="0.3" >**</text>
<rect x="386.70" y="343.30" width="22.00" height="14.30" fill="#ee6e6b" />
<rect x="386.70" y="359.60" width="22.60" height="14.30" fill="#ee6e6b" />
<line x1="383.30" y1="259.40" x2="463.60" y2="259.40" stroke="#bbbbbb" stroke-width="0.9"/>
<line x1="463.60" y1="259.40" x2="463.60" y2="376.20" stroke="#aaaaaa" stroke-width="1.0"/>
<line x1="383.30" y1="259.00" x2="383.30" y2="376.70" stroke="#555" stroke-width="1.0"/>
<line x1="382.80" y1="376.20" x2="463.60" y2="376.20" stroke="#444" stroke-width="1.0"/>
<line x1="381.50" y1="268.95" x2="383.30" y2="268.95" stroke="#333" stroke-width="0.8"/>
<line x1="381.50" y1="285.25" x2="383.30" y2="285.25" stroke="#333" stroke-width="0.8"/>
<line x1="381.50" y1="301.55" x2="383.30" y2="301.55" stroke="#333" stroke-width="0.8"/>
<line x1="381.50" y1="317.85" x2="383.30" y2="317.85" stroke="#333" stroke-width="0.8"/>
<line x1="381.50" y1="334.15" x2="383.30" y2="334.15" stroke="#333" stroke-width="0.8"/>
<line x1="381.50" y1="350.45" x2="383.30" y2="350.45" stroke="#333" stroke-width="0.8"/>
<line x1="381.50" y1="366.75" x2="383.30" y2="366.75" stroke="#333" stroke-width="0.8"/>
<line x1="386.70" y1="376.20" x2="386.70" y2="377.80" stroke="#333" stroke-width="0.8"/>
<text x="386.70" y="381.80" font-size="4.6" font-weight="normal" font-style="normal" text-anchor="middle" fill="#555" >0</text>
<line x1="415.30" y1="376.20" x2="415.30" y2="377.80" stroke="#333" stroke-width="0.8"/>
<text x="415.30" y="381.80" font-size="4.6" font-weight="normal" font-style="normal" text-anchor="middle" fill="#555" >5</text>
<line x1="443.90" y1="376.20" x2="443.90" y2="377.80" stroke="#333" stroke-width="0.8"/>
<text x="443.90" y="381.80" font-size="4.6" font-weight="normal" font-style="normal" text-anchor="middle" fill="#555" >10</text>
<line x1="398.00" y1="393.70" x2="398.00" y2="510.50" stroke="#f4f4f4" stroke-width="0.6"/>
<line x1="417.60" y1="393.70" x2="417.60" y2="510.50" stroke="#f4f4f4" stroke-width="0.6"/>
<line x1="437.20" y1="393.70" x2="437.20" y2="510.50" stroke="#f4f4f4" stroke-width="0.6"/>
<line x1="456.80" y1="393.70" x2="456.80" y2="510.50" stroke="#f4f4f4" stroke-width="0.6"/>
<line x1="388.20" y1="393.70" x2="388.20" y2="510.50" stroke="#e9e9e9" stroke-width="0.6"/>
<line x1="407.80" y1="393.70" x2="407.80" y2="510.50" stroke="#e9e9e9" stroke-width="0.6"/>
<line x1="427.40" y1="393.70" x2="427.40" y2="510.50" stroke="#e9e9e9" stroke-width="0.6"/>
<line x1="447.00" y1="393.70" x2="447.00" y2="510.50" stroke="#e9e9e9" stroke-width="0.6"/>
<line x1="383.30" y1="403.30" x2="463.60" y2="403.30" stroke="#e9e9e9" stroke-width="0.6"/>
<line x1="383.30" y1="419.60" x2="463.60" y2="419.60" stroke="#e9e9e9" stroke-width="0.6"/>
<line x1="383.30" y1="435.90" x2="463.60" y2="435.90" stroke="#e9e9e9" stroke-width="0.6"/>
<line x1="383.30" y1="452.20" x2="463.60" y2="452.20" stroke="#e9e9e9" stroke-width="0.6"/>
<line x1="383.30" y1="468.50" x2="463.60" y2="468.50" stroke="#e9e9e9" stroke-width="0.6"/>
<line x1="383.30" y1="484.80" x2="463.60" y2="484.80" stroke="#e9e9e9" stroke-width="0.6"/>
<line x1="383.30" y1="501.10" x2="463.60" y2="501.10" stroke="#e9e9e9" stroke-width="0.6"/>
<rect x="407.80" y="396.00" width="13.80" height="14.60" fill="#ee6e6b" />
<rect x="407.80" y="412.30" width="45.70" height="14.60" fill="#62d6ca" />
<text x="460.03" y="421.27" font-size="5.8" font-weight="bold" font-style="normal" text-anchor="middle" fill="#222" stroke="#222" stroke-width="0.1" >*</text>
<rect x="407.80" y="428.60" width="42.40" height="14.60" fill="#62d6ca" />
<text x="456.73" y="437.57" font-size="5.8" font-weight="bold" font-style="normal" text-anchor="middle" fill="#222" stroke="#222" stroke-width="0.1" >*</text>
<rect x="390.20" y="444.90" width="17.60" height="14.60" fill="#ee6e6b" />
<rect x="395.80" y="461.20" width="12.00" height="14.60" fill="#ee6e6b" />
<rect x="392.30" y="477.50" width="15.50" height="14.60" fill="#ee6e6b" />
<rect x="387.00" y="493.80" width="20.80" height="14.60" fill="#ee6e6b" />
<line x1="383.30" y1="393.70" x2="463.60" y2="393.70" stroke="#bbbbbb" stroke-width="0.9"/>
<line x1="463.60" y1="393.70" x2="463.60" y2="510.50" stroke="#aaaaaa" stroke-width="1.0"/>
<line x1="383.30" y1="393.30" x2="383.30" y2="511.00" stroke="#555" stroke-width="1.0"/>
<line x1="382.80" y1="510.50" x2="463.60" y2="510.50" stroke="#444" stroke-width="1.0"/>
<line x1="381.50" y1="403.30" x2="383.30" y2="403.30" stroke="#333" stroke-width="0.8"/>
<line x1="381.50" y1="419.60" x2="383.30" y2="419.60" stroke="#333" stroke-width="0.8"/>
<line x1="381.50" y1="435.90" x2="383.30" y2="435.90" stroke="#333" stroke-width="0.8"/>
<line x1="381.50" y1="452.20" x2="383.30" y2="452.20" stroke="#333" stroke-width="0.8"/>
<line x1="381.50" y1="468.50" x2="383.30" y2="468.50" stroke="#333" stroke-width="0.8"/>
<line x1="381.50" y1="484.80" x2="383.30" y2="484.80" stroke="#333" stroke-width="0.8"/>
<line x1="381.50" y1="501.10" x2="383.30" y2="501.10" stroke="#333" stroke-width="0.8"/>
<line x1="388.20" y1="510.50" x2="388.20" y2="512.10" stroke="#333" stroke-width="0.8"/>
<text x="388.20" y="516.10" font-size="4.6" font-weight="normal" font-style="normal" text-anchor="middle" fill="#555" >-3</text>
<line x1="407.80" y1="510.50" x2="407.80" y2="512.10" stroke="#333" stroke-width="0.8"/>
<text x="407.80" y="516.10" font-size="4.6" font-weight="normal" font-style="normal" text-anchor="middle" fill="#555" >0</text>
<line x1="427.40" y1="510.50" x2="427.40" y2="512.10" stroke="#333" stroke-width="0.8"/>
<text x="427.40" y="516.10" font-size="4.6" font-weight="normal" font-style="normal" text-anchor="middle" fill="#555" >3</text>
<line x1="447.00" y1="510.50" x2="447.00" y2="512.10" stroke="#333" stroke-width="0.8"/>
<text x="447.00" y="516.10" font-size="4.6" font-weight="normal" font-style="normal" text-anchor="middle" fill="#555" >6</text>
<text x="425.50" y="530.00" font-size="9.5" font-weight="bold" font-style="normal" text-anchor="middle" fill="#000" stroke="#000" stroke-width="0.18" >%IncMSE</text>
<line x1="506.60" y1="259.40" x2="506.60" y2="376.20" stroke="#f4f4f4" stroke-width="0.6"/>
<line x1="530.60" y1="259.40" x2="530.60" y2="376.20" stroke="#f4f4f4" stroke-width="0.6"/>
<line x1="554.60" y1="259.40" x2="554.60" y2="376.20" stroke="#f4f4f4" stroke-width="0.6"/>
<line x1="494.60" y1="259.40" x2="494.60" y2="376.20" stroke="#e9e9e9" stroke-width="0.6"/>
<line x1="518.60" y1="259.40" x2="518.60" y2="376.20" stroke="#e9e9e9" stroke-width="0.6"/>
<line x1="542.60" y1="259.40" x2="542.60" y2="376.20" stroke="#e9e9e9" stroke-width="0.6"/>
<line x1="566.60" y1="259.40" x2="566.60" y2="376.20" stroke="#e9e9e9" stroke-width="0.6"/>
<line x1="490.80" y1="268.95" x2="571.80" y2="268.95" stroke="#e9e9e9" stroke-width="0.6"/>
<line x1="490.80" y1="285.25" x2="571.80" y2="285.25" stroke="#e9e9e9" stroke-width="0.6"/>
<line x1="490.80" y1="301.55" x2="571.80" y2="301.55" stroke="#e9e9e9" stroke-width="0.6"/>
<line x1="490.80" y1="317.85" x2="571.80" y2="317.85" stroke="#e9e9e9" stroke-width="0.6"/>
<line x1="490.80" y1="334.15" x2="571.80" y2="334.15" stroke="#e9e9e9" stroke-width="0.6"/>
<line x1="490.80" y1="350.45" x2="571.80" y2="350.45" stroke="#e9e9e9" stroke-width="0.6"/>
<line x1="490.80" y1="366.75" x2="571.80" y2="366.75" stroke="#e9e9e9" stroke-width="0.6"/>
<rect x="494.60" y="261.80" width="68.60" height="14.30" fill="#62d6ca" />
<text x="568.00" y="270.85" font-size="6.6" font-weight="bold" font-style="normal" text-anchor="middle" fill="#222" stroke="#222" stroke-width="0.3" >**</text>
<rect x="494.60" y="278.10" width="39.30" height="14.30" fill="#62d6ca" />
<text x="538.70" y="287.15" font-size="6.6" font-weight="bold" font-style="normal" text-anchor="middle" fill="#222" stroke="#222" stroke-width="0.3" >**</text>
<rect x="494.60" y="294.40" width="45.60" height="14.30" fill="#62d6ca" />
<text x="545.00" y="303.45" font-size="6.6" font-weight="bold" font-style="normal" text-anchor="middle" fill="#222" stroke="#222" stroke-width="0.3" >*</text>
<rect x="494.60" y="310.70" width="31.20" height="14.30" fill="#62d6ca" />
<text x="530.60" y="319.75" font-size="6.6" font-weight="bold" font-style="normal" text-anchor="middle" fill="#222" stroke="#222" stroke-width="0.3" >*</text>
<rect x="494.60" y="327.00" width="22.90" height="14.30" fill="#ee6e6b" />
<rect x="494.60" y="343.30" width="29.30" height="14.30" fill="#62d6ca" />
<text x="528.70" y="352.35" font-size="6.6" font-weight="bold" font-style="normal" text-anchor="middle" fill="#222" stroke="#222" stroke-width="0.3" >*</text>
<rect x="494.60" y="359.60" width="53.40" height="14.30" fill="#62d6ca" />
<text x="552.80" y="368.65" font-size="6.6" font-weight="bold" font-style="normal" text-anchor="middle" fill="#222" stroke="#222" stroke-width="0.3" >**</text>
<line x1="490.80" y1="259.40" x2="571.80" y2="259.40" stroke="#bbbbbb" stroke-width="0.9"/>
<line x1="571.80" y1="259.40" x2="571.80" y2="376.20" stroke="#aaaaaa" stroke-width="1.0"/>
<line x1="490.80" y1="259.00" x2="490.80" y2="376.70" stroke="#555" stroke-width="1.0"/>
<line x1="490.30" y1="376.20" x2="571.80" y2="376.20" stroke="#444" stroke-width="1.0"/>
<line x1="489.00" y1="268.95" x2="490.80" y2="268.95" stroke="#333" stroke-width="0.8"/>
<line x1="489.00" y1="285.25" x2="490.80" y2="285.25" stroke="#333" stroke-width="0.8"/>
<line x1="489.00" y1="301.55" x2="490.80" y2="301.55" stroke="#333" stroke-width="0.8"/>
<line x1="489.00" y1="317.85" x2="490.80" y2="317.85" stroke="#333" stroke-width="0.8"/>
<line x1="489.00" y1="334.15" x2="490.80" y2="334.15" stroke="#333" stroke-width="0.8"/>
<line x1="489.00" y1="350.45" x2="490.80" y2="350.45" stroke="#333" stroke-width="0.8"/>
<line x1="489.00" y1="366.75" x2="490.80" y2="366.75" stroke="#333" stroke-width="0.8"/>
<line x1="494.60" y1="376.20" x2="494.60" y2="377.80" stroke="#333" stroke-width="0.8"/>
<text x="494.60" y="381.80" font-size="4.6" font-weight="normal" font-style="normal" text-anchor="middle" fill="#555" >0</text>
<line x1="518.60" y1="376.20" x2="518.60" y2="377.80" stroke="#333" stroke-width="0.8"/>
<text x="518.60" y="381.80" font-size="4.6" font-weight="normal" font-style="normal" text-anchor="middle" fill="#555" >5</text>
<line x1="542.60" y1="376.20" x2="542.60" y2="377.80" stroke="#333" stroke-width="0.8"/>
<text x="542.60" y="381.80" font-size="4.6" font-weight="normal" font-style="normal" text-anchor="middle" fill="#555" >10</text>
<line x1="566.60" y1="376.20" x2="566.60" y2="377.80" stroke="#333" stroke-width="0.8"/>
<text x="566.60" y="381.80" font-size="4.6" font-weight="normal" font-style="normal" text-anchor="middle" fill="#555" >15</text>
<line x1="491.38" y1="393.70" x2="491.38" y2="510.50" stroke="#f4f4f4" stroke-width="0.6"/>
<line x1="508.83" y1="393.70" x2="508.83" y2="510.50" stroke="#f4f4f4" stroke-width="0.6"/>
<line x1="526.27" y1="393.70" x2="526.27" y2="510.50" stroke="#f4f4f4" stroke-width="0.6"/>
<line x1="543.73" y1="393.70" x2="543.73" y2="510.50" stroke="#f4f4f4" stroke-width="0.6"/>
<line x1="561.18" y1="393.70" x2="561.18" y2="510.50" stroke="#f4f4f4" stroke-width="0.6"/>
<line x1="500.10" y1="393.70" x2="500.10" y2="510.50" stroke="#e9e9e9" stroke-width="0.6"/>
<line x1="517.55" y1="393.70" x2="517.55" y2="510.50" stroke="#e9e9e9" stroke-width="0.6"/>
<line x1="535.00" y1="393.70" x2="535.00" y2="510.50" stroke="#e9e9e9" stroke-width="0.6"/>
<line x1="552.45" y1="393.70" x2="552.45" y2="510.50" stroke="#e9e9e9" stroke-width="0.6"/>
<line x1="569.90" y1="393.70" x2="569.90" y2="510.50" stroke="#e9e9e9" stroke-width="0.6"/>
<line x1="490.80" y1="403.30" x2="571.80" y2="403.30" stroke="#e9e9e9" stroke-width="0.6"/>
<line x1="490.80" y1="419.60" x2="571.80" y2="419.60" stroke="#e9e9e9" stroke-width="0.6"/>
<line x1="490.80" y1="435.90" x2="571.80" y2="435.90" stroke="#e9e9e9" stroke-width="0.6"/>
<line x1="490.80" y1="452.20" x2="571.80" y2="452.20" stroke="#e9e9e9" stroke-width="0.6"/>
<line x1="490.80" y1="468.50" x2="571.80" y2="468.50" stroke="#e9e9e9" stroke-width="0.6"/>
<line x1="490.80" y1="484.80" x2="571.80" y2="484.80" stroke="#e9e9e9" stroke-width="0.6"/>
<line x1="490.80" y1="501.10" x2="571.80" y2="501.10" stroke="#e9e9e9" stroke-width="0.6"/>
<rect x="500.10" y="396.00" width="11.00" height="14.60" fill="#ee6e6b" />
<rect x="494.60" y="412.30" width="5.50" height="14.60" fill="#ee6e6b" />
<rect x="500.10" y="428.60" width="11.80" height="14.60" fill="#ee6e6b" />
<rect x="500.10" y="444.90" width="13.00" height="14.60" fill="#ee6e6b" />
<rect x="500.10" y="461.20" width="60.80" height="14.60" fill="#62d6ca" />
<text x="567.88" y="470.17" font-size="5.8" font-weight="bold" font-style="normal" text-anchor="middle" fill="#222" stroke="#222" stroke-width="0.1" >*</text>
<rect x="500.10" y="477.50" width="3.70" height="14.60" fill="#ee6e6b" />
<rect x="500.10" y="493.80" width="12.90" height="14.60" fill="#ee6e6b" />
<line x1="490.80" y1="393.70" x2="571.80" y2="393.70" stroke="#bbbbbb" stroke-width="0.9"/>
<line x1="571.80" y1="393.70" x2="571.80" y2="510.50" stroke="#aaaaaa" stroke-width="1.0"/>
<line x1="490.80" y1="393.30" x2="490.80" y2="511.00" stroke="#555" stroke-width="1.0"/>
<line x1="490.30" y1="510.50" x2="571.80" y2="510.50" stroke="#444" stroke-width="1.0"/>
<line x1="489.00" y1="403.30" x2="490.80" y2="403.30" stroke="#333" stroke-width="0.8"/>
<line x1="489.00" y1="419.60" x2="490.80" y2="419.60" stroke="#333" stroke-width="0.8"/>
<line x1="489.00" y1="435.90" x2="490.80" y2="435.90" stroke="#333" stroke-width="0.8"/>
<line x1="489.00" y1="452.20" x2="490.80" y2="452.20" stroke="#333" stroke-width="0.8"/>
<line x1="489.00" y1="468.50" x2="490.80" y2="468.50" stroke="#333" stroke-width="0.8"/>
<line x1="489.00" y1="484.80" x2="490.80" y2="484.80" stroke="#333" stroke-width="0.8"/>
<line x1="489.00" y1="501.10" x2="490.80" y2="501.10" stroke="#333" stroke-width="0.8"/>
<line x1="500.10" y1="510.50" x2="500.10" y2="512.10" stroke="#333" stroke-width="0.8"/>
<text x="500.10" y="516.10" font-size="4.6" font-weight="normal" font-style="normal" text-anchor="middle" fill="#555" >0.0</text>
<line x1="517.55" y1="510.50" x2="517.55" y2="512.10" stroke="#333" stroke-width="0.8"/>
<text x="517.55" y="516.10" font-size="4.6" font-weight="normal" font-style="normal" text-anchor="middle" fill="#555" >2.5</text>
<line x1="535.00" y1="510.50" x2="535.00" y2="512.10" stroke="#333" stroke-width="0.8"/>
<text x="535.00" y="516.10" font-size="4.6" font-weight="normal" font-style="normal" text-anchor="middle" fill="#555" >5.0</text>
<line x1="552.45" y1="510.50" x2="552.45" y2="512.10" stroke="#333" stroke-width="0.8"/>
<text x="552.45" y="516.10" font-size="4.6" font-weight="normal" font-style="normal" text-anchor="middle" fill="#555" >7.5</text>
<line x1="569.90" y1="510.50" x2="569.90" y2="512.10" stroke="#333" stroke-width="0.8"/>
<text x="569.90" y="516.10" font-size="4.6" font-weight="normal" font-style="normal" text-anchor="middle" fill="#555" >10.0</text>
<text x="531.40" y="530.00" font-size="9.5" font-weight="bold" font-style="normal" text-anchor="middle" fill="#000" stroke="#000" stroke-width="0.18" >%IncMSE</text>
<line x1="616.50" y1="259.40" x2="616.50" y2="376.20" stroke="#f4f4f4" stroke-width="0.6"/>
<line x1="643.50" y1="259.40" x2="643.50" y2="376.20" stroke="#f4f4f4" stroke-width="0.6"/>
<line x1="670.50" y1="259.40" x2="670.50" y2="376.20" stroke="#f4f4f4" stroke-width="0.6"/>
<line x1="603.00" y1="259.40" x2="603.00" y2="376.20" stroke="#e9e9e9" stroke-width="0.6"/>
<line x1="630.00" y1="259.40" x2="630.00" y2="376.20" stroke="#e9e9e9" stroke-width="0.6"/>
<line x1="657.00" y1="259.40" x2="657.00" y2="376.20" stroke="#e9e9e9" stroke-width="0.6"/>
<line x1="599.50" y1="268.95" x2="680.20" y2="268.95" stroke="#e9e9e9" stroke-width="0.6"/>
<line x1="599.50" y1="285.25" x2="680.20" y2="285.25" stroke="#e9e9e9" stroke-width="0.6"/>
<line x1="599.50" y1="301.55" x2="680.20" y2="301.55" stroke="#e9e9e9" stroke-width="0.6"/>
<line x1="599.50" y1="317.85" x2="680.20" y2="317.85" stroke="#e9e9e9" stroke-width="0.6"/>
<line x1="599.50" y1="334.15" x2="680.20" y2="334.15" stroke="#e9e9e9" stroke-width="0.6"/>
<line x1="599.50" y1="350.45" x2="680.20" y2="350.45" stroke="#e9e9e9" stroke-width="0.6"/>
<line x1="599.50" y1="366.75" x2="680.20" y2="366.75" stroke="#e9e9e9" stroke-width="0.6"/>
<rect x="603.00" y="261.80" width="67.90" height="14.30" fill="#62d6ca" />
<text x="676.30" y="270.85" font-size="6.6" font-weight="bold" font-style="normal" text-anchor="middle" fill="#222" stroke="#222" stroke-width="0.3" >**</text>
<rect x="603.00" y="278.10" width="33.10" height="14.30" fill="#62d6ca" />
<text x="641.50" y="287.15" font-size="6.6" font-weight="bold" font-style="normal" text-anchor="middle" fill="#222" stroke="#222" stroke-width="0.3" >*</text>
<rect x="603.00" y="294.40" width="37.80" height="14.30" fill="#62d6ca" />
<text x="646.20" y="303.45" font-size="6.6" font-weight="bold" font-style="normal" text-anchor="middle" fill="#222" stroke="#222" stroke-width="0.3" >*</text>
<rect x="603.00" y="310.70" width="54.90" height="14.30" fill="#62d6ca" />
<text x="663.30" y="319.75" font-size="6.6" font-weight="bold" font-style="normal" text-anchor="middle" fill="#222" stroke="#222" stroke-width="0.3" >**</text>
<rect x="603.00" y="327.00" width="32.90" height="14.30" fill="#62d6ca" />
<text x="641.30" y="336.05" font-size="6.6" font-weight="bold" font-style="normal" text-anchor="middle" fill="#222" stroke="#222" stroke-width="0.3" >*</text>
<rect x="603.00" y="343.30" width="31.60" height="14.30" fill="#ee6e6b" />
<rect x="603.00" y="359.60" width="45.00" height="14.30" fill="#62d6ca" />
<text x="653.40" y="368.65" font-size="6.6" font-weight="bold" font-style="normal" text-anchor="middle" fill="#222" stroke="#222" stroke-width="0.3" >*</text>
<line x1="599.50" y1="259.40" x2="680.20" y2="259.40" stroke="#bbbbbb" stroke-width="0.9"/>
<line x1="680.20" y1="259.40" x2="680.20" y2="376.20" stroke="#aaaaaa" stroke-width="1.0"/>
<line x1="599.50" y1="259.00" x2="599.50" y2="376.70" stroke="#555" stroke-width="1.0"/>
<line x1="599.00" y1="376.20" x2="680.20" y2="376.20" stroke="#444" stroke-width="1.0"/>
<line x1="597.70" y1="268.95" x2="599.50" y2="268.95" stroke="#333" stroke-width="0.8"/>
<line x1="597.70" y1="285.25" x2="599.50" y2="285.25" stroke="#333" stroke-width="0.8"/>
<line x1="597.70" y1="301.55" x2="599.50" y2="301.55" stroke="#333" stroke-width="0.8"/>
<line x1="597.70" y1="317.85" x2="599.50" y2="317.85" stroke="#333" stroke-width="0.8"/>
<line x1="597.70" y1="334.15" x2="599.50" y2="334.15" stroke="#333" stroke-width="0.8"/>
<line x1="597.70" y1="350.45" x2="599.50" y2="350.45" stroke="#333" stroke-width="0.8"/>
<line x1="597.70" y1="366.75" x2="599.50" y2="366.75" stroke="#333" stroke-width="0.8"/>
<line x1="603.00" y1="376.20" x2="603.00" y2="377.80" stroke="#333" stroke-width="0.8"/>
<text x="603.00" y="381.80" font-size="4.6" font-weight="normal" font-style="normal" text-anchor="middle" fill="#555" >0</text>
<line x1="630.00" y1="376.20" x2="630.00" y2="377.80" stroke="#333" stroke-width="0.8"/>
<text x="630.00" y="381.80" font-size="4.6" font-weight="normal" font-style="normal" text-anchor="middle" fill="#555" >5</text>
<line x1="657.00" y1="376.20" x2="657.00" y2="377.80" stroke="#333" stroke-width="0.8"/>
<text x="657.00" y="381.80" font-size="4.6" font-weight="normal" font-style="normal" text-anchor="middle" fill="#555" >10</text>
<line x1="601.70" y1="393.70" x2="601.70" y2="510.50" stroke="#f4f4f4" stroke-width="0.6"/>
<line x1="617.30" y1="393.70" x2="617.30" y2="510.50" stroke="#f4f4f4" stroke-width="0.6"/>
<line x1="632.90" y1="393.70" x2="632.90" y2="510.50" stroke="#f4f4f4" stroke-width="0.6"/>
<line x1="648.50" y1="393.70" x2="648.50" y2="510.50" stroke="#f4f4f4" stroke-width="0.6"/>
<line x1="664.10" y1="393.70" x2="664.10" y2="510.50" stroke="#f4f4f4" stroke-width="0.6"/>
<line x1="679.70" y1="393.70" x2="679.70" y2="510.50" stroke="#f4f4f4" stroke-width="0.6"/>
<line x1="609.50" y1="393.70" x2="609.50" y2="510.50" stroke="#e9e9e9" stroke-width="0.6"/>
<line x1="625.10" y1="393.70" x2="625.10" y2="510.50" stroke="#e9e9e9" stroke-width="0.6"/>
<line x1="640.70" y1="393.70" x2="640.70" y2="510.50" stroke="#e9e9e9" stroke-width="0.6"/>
<line x1="656.30" y1="393.70" x2="656.30" y2="510.50" stroke="#e9e9e9" stroke-width="0.6"/>
<line x1="671.90" y1="393.70" x2="671.90" y2="510.50" stroke="#e9e9e9" stroke-width="0.6"/>
<line x1="599.50" y1="403.30" x2="680.20" y2="403.30" stroke="#e9e9e9" stroke-width="0.6"/>
<line x1="599.50" y1="419.60" x2="680.20" y2="419.60" stroke="#e9e9e9" stroke-width="0.6"/>
<line x1="599.50" y1="435.90" x2="680.20" y2="435.90" stroke="#e9e9e9" stroke-width="0.6"/>
<line x1="599.50" y1="452.20" x2="680.20" y2="452.20" stroke="#e9e9e9" stroke-width="0.6"/>
<line x1="599.50" y1="468.50" x2="680.20" y2="468.50" stroke="#e9e9e9" stroke-width="0.6"/>
<line x1="599.50" y1="484.80" x2="680.20" y2="484.80" stroke="#e9e9e9" stroke-width="0.6"/>
<line x1="599.50" y1="501.10" x2="680.20" y2="501.10" stroke="#e9e9e9" stroke-width="0.6"/>
<rect x="609.50" y="396.00" width="39.10" height="14.60" fill="#62d6ca" />
<text x="656.40" y="404.97" font-size="5.8" font-weight="bold" font-style="normal" text-anchor="middle" fill="#222" stroke="#222" stroke-width="0.1" >*</text>
<rect x="609.50" y="412.30" width="12.40" height="14.60" fill="#ee6e6b" />
<rect x="609.50" y="428.60" width="5.30" height="14.60" fill="#ee6e6b" />
<rect x="603.10" y="444.90" width="6.40" height="14.60" fill="#ee6e6b" />
<rect x="609.50" y="461.20" width="58.90" height="14.60" fill="#62d6ca" />
<text x="676.20" y="470.17" font-size="5.8" font-weight="bold" font-style="normal" text-anchor="middle" fill="#222" stroke="#222" stroke-width="0.1" >*</text>
<rect x="609.50" y="477.50" width="2.10" height="14.60" fill="#ee6e6b" />
<rect x="603.10" y="493.80" width="6.40" height="14.60" fill="#ee6e6b" />
<line x1="599.50" y1="393.70" x2="680.20" y2="393.70" stroke="#bbbbbb" stroke-width="0.9"/>
<line x1="680.20" y1="393.70" x2="680.20" y2="510.50" stroke="#aaaaaa" stroke-width="1.0"/>
<line x1="599.50" y1="393.30" x2="599.50" y2="511.00" stroke="#555" stroke-width="1.0"/>
<line x1="599.00" y1="510.50" x2="680.20" y2="510.50" stroke="#444" stroke-width="1.0"/>
<line x1="597.70" y1="403.30" x2="599.50" y2="403.30" stroke="#333" stroke-width="0.8"/>
<line x1="597.70" y1="419.60" x2="599.50" y2="419.60" stroke="#333" stroke-width="0.8"/>
<line x1="597.70" y1="435.90" x2="599.50" y2="435.90" stroke="#333" stroke-width="0.8"/>
<line x1="597.70" y1="452.20" x2="599.50" y2="452.20" stroke="#333" stroke-width="0.8"/>
<line x1="597.70" y1="468.50" x2="599.50" y2="468.50" stroke="#333" stroke-width="0.8"/>
<line x1="597.70" y1="484.80" x2="599.50" y2="484.80" stroke="#333" stroke-width="0.8"/>
<line x1="597.70" y1="501.10" x2="599.50" y2="501.10" stroke="#333" stroke-width="0.8"/>
<line x1="609.50" y1="510.50" x2="609.50" y2="512.10" stroke="#333" stroke-width="0.8"/>
<text x="609.50" y="516.10" font-size="4.6" font-weight="normal" font-style="normal" text-anchor="middle" fill="#555" >0</text>
<line x1="625.10" y1="510.50" x2="625.10" y2="512.10" stroke="#333" stroke-width="0.8"/>
<text x="625.10" y="516.10" font-size="4.6" font-weight="normal" font-style="normal" text-anchor="middle" fill="#555" >2</text>
<line x1="640.70" y1="510.50" x2="640.70" y2="512.10" stroke="#333" stroke-width="0.8"/>
<text x="640.70" y="516.10" font-size="4.6" font-weight="normal" font-style="normal" text-anchor="middle" fill="#555" >4</text>
<line x1="656.30" y1="510.50" x2="656.30" y2="512.10" stroke="#333" stroke-width="0.8"/>
<text x="656.30" y="516.10" font-size="4.6" font-weight="normal" font-style="normal" text-anchor="middle" fill="#555" >6</text>
<line x1="671.90" y1="510.50" x2="671.90" y2="512.10" stroke="#333" stroke-width="0.8"/>
<text x="671.90" y="516.10" font-size="4.6" font-weight="normal" font-style="normal" text-anchor="middle" fill="#555" >8</text>
<text x="641.10" y="530.00" font-size="9.5" font-weight="bold" font-style="normal" text-anchor="middle" fill="#000" stroke="#000" stroke-width="0.18" >%IncMSE</text>
</svg>
</body></html>
